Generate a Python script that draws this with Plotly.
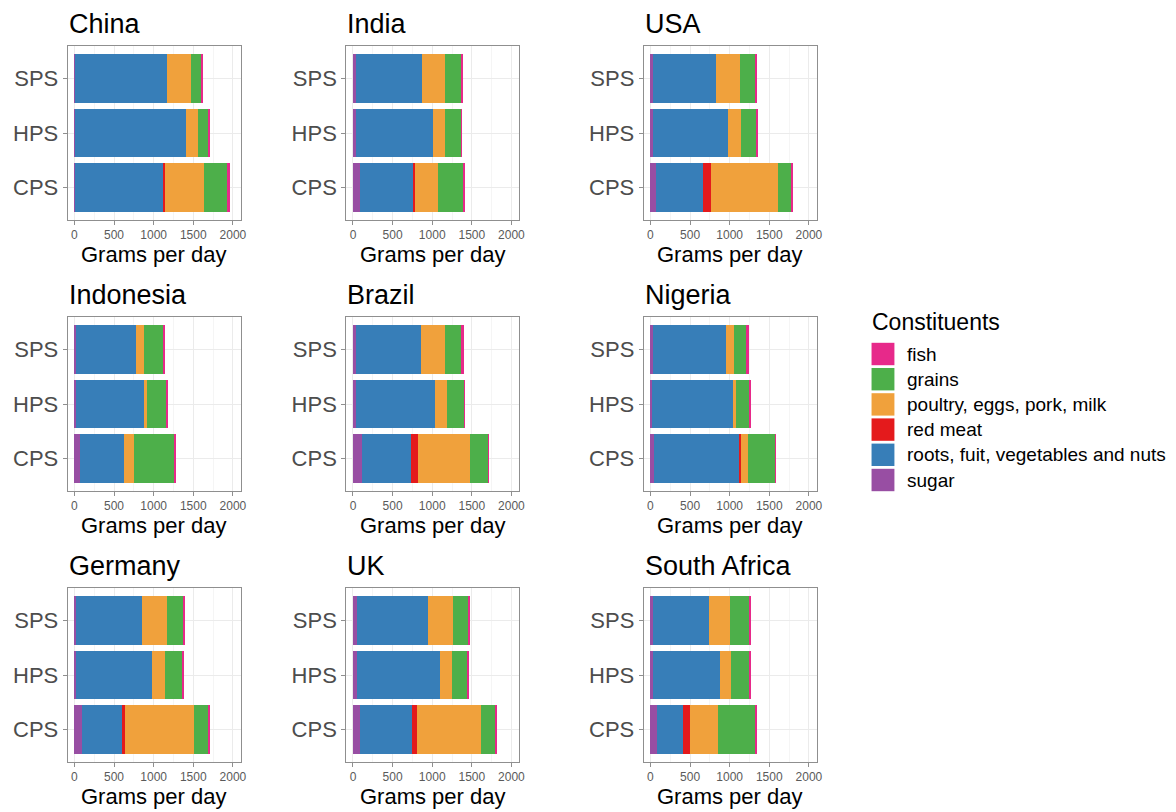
import plotly.graph_objects as go

# ---------------- data ----------------
countries = ["China", "India", "USA", "Indonesia", "Brazil", "Nigeria",
             "Germany", "UK", "South Africa"]
scenarios = ["SPS", "HPS", "CPS"]

# values per country, in scenario order [SPS, HPS, CPS] (grams per day)
sugar = [[12, 10, 12], [40, 40, 83], [34, 34, 71], [25, 15, 71], [42, 42, 117],
         [29, 25, 50], [25, 25, 96], [46, 46, 83], [29, 29, 84]]
roots = [[1155, 1394, 1109], [827, 972, 688], [790, 949, 593], [754, 860, 554],
         [812, 987, 612], [929, 1013, 1068], [825, 958, 504], [900, 1050, 659],
         [704, 851, 333]]
red_meat = [[0, 0, 25], [0, 0, 10], [0, 0, 101], [0, 0, 5], [0, 0, 96],
            [0, 0, 21], [0, 0, 33], [0, 0, 62], [0, 0, 76]]
poultry = [[300, 150, 491], [291, 146, 294], [310, 164, 840], [96, 42, 124],
           [304, 163, 654], [92, 46, 92], [313, 159, 871], [312, 154, 813],
           [269, 135, 358]]
grains = [[125, 129, 292], [209, 213, 325], [194, 189, 168], [246, 237, 504],
          [217, 216, 234], [160, 164, 345], [208, 216, 188], [192, 200, 187],
          [240, 236, 475]]
fish = [[29, 21, 33], [25, 8, 8], [12, 9, 13], [25, 21, 30], [21, 9, 4],
        [29, 13, 2], [29, 13, 12], [29, 8, 17], [21, 12, 5]]

# stacking order left -> right
stack_names = ["sugar", "roots, fuit, vegetables and nuts", "red meat",
               "poultry, eggs, pork, milk", "grains", "fish"]
stack_values = [sugar, roots, red_meat, poultry, grains, fish]
stack_colors = ["#984EA3", "#377EB8", "#E41A1C", "#F0A13C", "#4DAF4A", "#E7298A"]

# legend order
legend_names = ["fish", "grains", "poultry, eggs, pork, milk", "red meat",
                "roots, fuit, vegetables and nuts", "sugar"]
legend_colors = ["#E7298A", "#4DAF4A", "#F0A13C", "#E41A1C", "#377EB8", "#984EA3"]

x_ticks = [0, 500, 1000, 1500, 2000]

# ---------------- layout geometry (page pixels) ----------------
PAGE_W, PAGE_H = 1176, 812
OFF = 8  # default page body margin
W, H = PAGE_W - OFF, PAGE_H - OFF
col_left = [68, 348, 647]
row_top = [46, 317, 588]
PW, PH = 174, 174
FONT = "Liberation Sans, Arial, sans-serif"
BORDER = "#8f8f8f"
GRID = "#EBEBEB"


def fx(x):
    return (x - OFF) / W


def fy(y):
    return 1 - (y - OFF) / H


fig = go.Figure()
annotations = []
shapes = []
layout_axes = {}

for i, country in enumerate(countries):
    r, c = divmod(i, 3)
    suf = "" if i == 0 else str(i + 1)
    for name, vals, color in zip(stack_names, stack_values, stack_colors):
        fig.add_trace(go.Bar(
            y=scenarios, x=vals[i], orientation="h", width=0.9,
            marker=dict(color=color, line=dict(width=0)),
            name=name, showlegend=False,
            xaxis="x" + suf, yaxis="y" + suf,
            hovertemplate=country + "<br>%{y}<br>" + name + ": %{x}<extra></extra>",
        ))
    l, t = col_left[c], row_top[r]
    layout_axes["xaxis" + suf] = dict(
        domain=[fx(l), fx(l + PW)], anchor="y" + suf,
        range=[-85, 2100], tickvals=x_ticks,
        ticks="outside", ticklen=4, tickwidth=1, tickcolor=BORDER,
        showline=True, mirror=True, linecolor=BORDER, linewidth=1,
        showgrid=True, gridcolor=GRID, gridwidth=1, zeroline=False,
        minor=dict(dtick=250, tick0=0, showgrid=True, gridcolor="#F5F5F5",
                   gridwidth=0.6, ticks=""),
        tickfont=dict(family=FONT, size=12, color="#5a5a5a"),
        fixedrange=True,
    )
    layout_axes["yaxis" + suf] = dict(
        domain=[fy(t + PH), fy(t)], anchor="x" + suf,
        type="category", categoryorder="array",
        categoryarray=["CPS", "HPS", "SPS"], range=[-0.6, 2.6],
        ticks="outside", ticklen=4, tickwidth=1, tickcolor=BORDER,
        showline=True, mirror=True, linecolor=BORDER, linewidth=1,
        showgrid=True, gridcolor=GRID, gridwidth=1, zeroline=False,
        tickfont=dict(family=FONT, size=22, color="#4D4D4D"),
        fixedrange=True,
    )
    # panel title
    annotations.append(dict(
        text=country, xref="paper", yref="paper",
        x=fx(l - 1), y=fy(t - 22), xanchor="left", yanchor="middle",
        showarrow=False, font=dict(family=FONT, size=27, color="#000000"),
    ))
    # x-axis title
    annotations.append(dict(
        text="Grams per day", xref="paper", yref="paper",
        x=fx(l + PW / 2), y=fy(t + PH + 34), xanchor="center", yanchor="middle",
        showarrow=False, font=dict(family=FONT, size=22, color="#000000"),
    ))

# ---------------- manual legend ----------------
annotations.append(dict(
    text="Constituents", xref="paper", yref="paper",
    x=fx(874), y=fy(322), xanchor="left", yanchor="middle",
    showarrow=False, font=dict(family=FONT, size=23, color="#000000"),
))
for k, (name, color) in enumerate(zip(legend_names, legend_colors)):
    yc = 354 + k * 25.2
    shapes.append(dict(
        type="rect", xref="paper", yref="paper",
        x0=fx(876), x1=fx(899), y0=fy(yc + 11.2), y1=fy(yc - 11.2),
        fillcolor=color, line=dict(width=0),
    ))
    annotations.append(dict(
        text=name, xref="paper", yref="paper",
        x=fx(910), y=fy(yc), xanchor="left", yanchor="middle",
        showarrow=False, font=dict(family=FONT, size=19, color="#000000"),
    ))

fig.update_layout(
    width=W, height=H, margin=dict(l=0, r=0, t=0, b=0),
    paper_bgcolor="white", plot_bgcolor="white",
    barmode="stack", showlegend=False,
    font=dict(family=FONT),
    annotations=annotations, shapes=shapes,
    **layout_axes,
)

fig.write_html("out.html")
